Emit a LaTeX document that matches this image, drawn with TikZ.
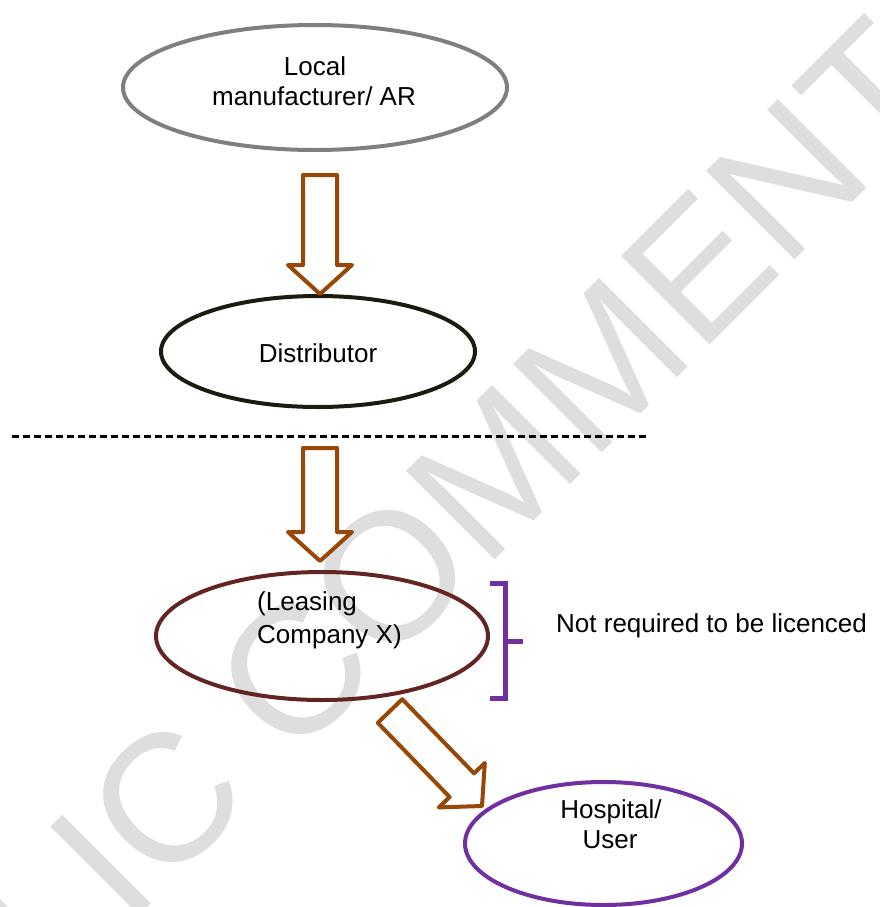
\documentclass[tikz,border=0pt]{standalone}
\usepackage{fontspec}
\setmainfont{Liberation Sans}
\usetikzlibrary{calc,shapes.geometric}

\definecolor{mfrgray}{RGB}{127,127,127}
\definecolor{distdark}{RGB}{29,27,16}
\definecolor{leasered}{RGB}{99,37,35}
\definecolor{userpurple}{RGB}{112,48,160}
\definecolor{flowbrown}{RGB}{152,72,6}
\definecolor{wmgray}{RGB}{222,222,222}

\tikzset{
  party/.style={ellipse, draw, line width=4pt, inner sep=0pt},
  lbl/.style={font=\fontsize{26}{31}\selectfont, inner sep=0pt, text=black},
  flowarrow/.style={draw=flowbrown, line width=4pt, line join=round, fill=white},
  divider/.style={draw=black, line width=3pt, dash pattern=on 7pt off 4pt},
  bracket/.style={draw=userpurple, line width=5pt},
  watermark/.style={text=wmgray, inner sep=0pt, font=\fontsize{182}{182}\selectfont},
}

% hollow block arrow from tail #1 to tip #2; #3 names the head-base point
\newcommand\blockarrow[3]{%
  \coordinate (#3) at ($(#2)!29pt!(#1)$);
  \draw[flowarrow]
    ($(#1)!17pt!90:(#2)$) --
    ($(#3)!17pt!90:(#2)$) --
    ($(#3)!32pt!90:(#2)$) --
    (#2) --
    ($(#3)!32pt!-90:(#2)$) --
    ($(#3)!17pt!-90:(#2)$) --
    ($(#1)!17pt!-90:(#2)$) -- cycle;
}

\begin{document}
\begin{tikzpicture}[x=1pt, y=-1pt]
\useasboundingbox (0,0) rectangle (880,907);

% background watermark
\node[watermark, anchor=base west, rotate=45] (wm) at (-209,1264) {PUBLIC COMMENT};

% parties in the supply chain
\node[party, draw=mfrgray, minimum width=384pt, minimum height=125pt] (mfr) at (315,87.5) {};
\node[lbl, anchor=base] (mfrA) at (315,75) {Local};
\node[lbl, anchor=base] (mfrB) at (314,105) {manufacturer/ AR};

\node[party, draw=distdark, minimum width=314pt, minimum height=111pt] (dist) at (318,351.5) {};
\node[lbl, anchor=base] (distA) at (318,362) {Distributor};

\node[party, draw=leasered, minimum width=332pt, minimum height=128pt] (lease) at (322,636) {};
\node[lbl, anchor=base west] (leaseA) at (257,610) {(Leasing};
\node[lbl, anchor=base west] (leaseB) at (257,643) {Company X)};

\node[party, draw=userpurple, minimum width=277pt, minimum height=123pt] (user) at (603.5,843.5) {};
\node[lbl, anchor=base] (userA) at (611,818) {Hospital/};
\node[lbl, anchor=base] (userB) at (610,848) {User};

% licensing boundary
\coordinate (divL) at (12,436);
\coordinate (divR) at (649,436);
\draw[divider] (divL) -- (divR);

% flow arrows
\coordinate (a1tail) at (320,175);
\coordinate (a1tip) at (320,294);
\blockarrow{a1tail}{a1tip}{a1head}

\coordinate (a2tail) at (320,448);
\coordinate (a2tip) at (320,561);
\blockarrow{a2tail}{a2tip}{a2head}

\coordinate (a3tail) at (390,711);
\coordinate (a3tip) at (482,806);
\blockarrow{a3tail}{a3tip}{a3head}

% bracket and note
\coordinate (brT) at (505,583);
\coordinate (brB) at (505,698);
\draw[bracket] ($(brT)+(-15,0)$) -- (brT) -- (brB) -- ($(brB)+(-15,0)$);
\draw[bracket] ($(brT)!0.51!(brB)$) -- ++(18,0);
\node[lbl, anchor=base west] (note) at (556,632) {Not required to be licenced};
\end{tikzpicture}
\end{document}
